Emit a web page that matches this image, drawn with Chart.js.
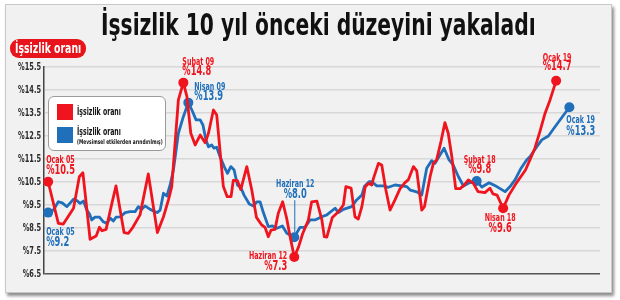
<!DOCTYPE html>
<html>
<head>
<meta charset="utf-8">
<script src="https://cdn.jsdelivr.net/npm/chart.js@4"></script>
<style>
  body { margin: 0; background: #fff; width: 620px; height: 300px; overflow: hidden; }
  .panel { position: absolute; left: 5px; top: 4px; width: 605px; height: 287px; background: #f1f1f1;
           border: 1px solid #c8c8c8; box-shadow: 2px 3px 3px rgba(0,0,0,0.45); }
  .narrow { font-family: "Liberation Sans Narrow", "DejaVu Sans Condensed", "Roboto", sans-serif; font-weight: bold; }
  .sq { display: inline-block; white-space: nowrap; transform-origin: left center; }
  #title { position: absolute; left: 101px; top: 6px; font-size: 31px; color: #111; white-space: nowrap; z-index: 2; }
  #pill { position: absolute; left: 10px; top: 39px; width: 76px; height: 19px; border-radius: 9px; background: #e8141b;
          color: #fff; font-size: 14px; line-height: 19px; z-index: 2; overflow: hidden; }
  #pill .sq { position: absolute; left: 5px; top: 0; }
  #legend { position: absolute; left: 48px; top: 96px; width: 118px; height: 55px; background: #fff;
            border: 1px solid #9a9a9a; border-radius: 6px; box-sizing: border-box; z-index: 2; }
  .sw { position: absolute; left: 8px; width: 16px; height: 16px; }
  .lt { position: absolute; left: 28px; font-size: 10px; color: #111; }
  .st { position: absolute; left: 28px; font-size: 6.5px; color: #111; }
  canvas { position: absolute; left: 0; top: 0; z-index: 1; }
</style>
</head>
<body>
<div class="panel"></div>
<div id="title" class="narrow"><span class="sq" data-w="435">İşsizlik 10 yıl önceki düzeyini yakaladı</span></div>
<div id="pill" class="narrow"><span class="sq" data-w="66">İşsizlik oranı</span></div>
<div id="legend" class="narrow">
  <div class="sw" style="top:7px;background:#f0141e"></div>
  <div class="lt" style="top:9px"><span class="sq" data-w="44">İşsizlik oranı</span></div>
  <div class="sw" style="top:30px;background:#1f6fba"></div>
  <div class="lt" style="top:29px"><span class="sq" data-w="44">İşsizlik oranı</span></div>
  <div class="st" style="top:41px"><span class="sq" data-w="86">(Mevsimsel etkilerden arındırılmış)</span></div>
</div>
<canvas id="chart" width="620" height="300"></canvas>
<script>
// months counted from Ocak 2005 (0)
const redMonths = [0, 3.7, 5.5, 9.2, 11.3, 12.6, 15.2, 17.4, 18.6, 19.5, 21.0, 23.1, 24.6, 27.5, 29.1, 30.7, 33.3, 36.3,
  39.6, 41.8, 43.6, 44.8, 46.0, 47.2, 49.0, 50.3, 51.7, 53.3, 55.1, 56.9, 58.1, 59.9, 61.1, 63.5, 64.9, 66.3, 67.1,
  68.6, 69.8, 72.0, 73.8, 75.5, 77.4, 78.6, 79.8, 80.8, 82.2, 83.4, 85.0, 86.5, 87.7, 89.2, 90.8, 92.2, 94.3, 95.5,
  97.4, 99.2, 100.1, 101.0, 103.0, 105.2, 107.0, 107.9, 109.8, 111.2, 112.4, 113.7, 114.9, 116.1, 117.3, 117.9,
  119.7, 120.9, 122.4, 123.9, 125.7, 127.5, 129.3, 130.5, 132.4, 133.6, 135.4, 136.4, 138.4, 139.6, 140.8, 142.4,
  143.8, 145.0, 146.3, 147.7, 149.3, 150.8, 152.3, 154.1, 155.8, 158.3, 160.1, 161.2, 162.7, 164.9, 167.0, 169.6,
  173.0, 174.6, 176.4, 178.3, 180.1, 181.9, 184.1];
const redRates = [10.51, 8.70, 8.67, 9.36, 10.73, 10.90, 8.01, 8.15, 8.53, 8.38, 8.44, 9.57, 10.33, 8.30, 8.27, 8.53,
  9.07, 10.85, 8.30, 8.99, 9.72, 10.30, 12.18, 14.07, 14.82, 14.21, 12.62, 12.11, 12.54, 12.21, 12.62, 13.63, 13.41,
  10.30, 9.86, 9.87, 10.57, 10.56, 10.17, 11.17, 10.15, 8.96, 8.63, 8.53, 8.12, 8.41, 8.44, 9.14, 9.64, 8.89, 8.12,
  7.24, 7.69, 8.24, 8.85, 9.64, 9.67, 8.85, 8.12, 8.10, 8.96, 9.21, 9.50, 10.30, 10.23, 8.99, 8.89, 9.43, 10.28,
  10.44, 10.37, 10.66, 11.31, 11.24, 10.15, 9.28, 9.72, 10.20, 10.47, 10.59, 11.17, 10.98, 9.28, 9.43, 10.72, 11.31,
  11.46, 12.28, 13.08, 12.62, 11.60, 10.21, 10.21, 10.37, 10.59, 10.44, 10.08, 10.04, 10.23, 9.98, 9.93, 9.36, 9.93,
  10.44, 11.02, 11.46, 11.97, 12.72, 13.49, 14.07, 14.90];
const blueMonths = [0, 1.9, 3.7, 5.1, 6.8, 9.2, 10.4, 11.6, 12.8, 14.0, 15.0, 15.8, 17.0, 18.6, 20.0, 21.3, 22.5, 23.6,
  24.6, 26.1, 27.9, 29.7, 31.5, 32.7, 33.9, 35.1, 37.0, 38.8, 39.5, 40.6, 41.8, 43.0, 44.2, 45.4, 47.2, 49.0, 50.8,
  52.1, 53.6, 55.1, 56.1, 57.2, 58.1, 59.3, 60.1, 61.1, 62.3, 63.8, 65.0, 66.2, 67.4, 68.6, 69.8, 71.0, 72.9, 74.4,
  75.6, 76.8, 78.0, 79.8, 81.3, 82.9, 84.9, 86.5, 89.2, 91.3, 93.1, 94.9, 96.7, 99.2, 101.0, 104.0, 105.2, 107.0,
  110.0, 111.8, 113.7, 114.6, 116.3, 117.3, 119.1, 121.5, 123.3, 125.7, 128.2, 130.0, 131.2, 133.6, 135.4, 137.2,
  139.0, 140.2, 142.0, 143.5, 145.3, 146.8, 148.7, 150.5, 152.5, 155.3, 157.2, 159.8, 162.6, 165.6, 167.4, 169.2,
  171.4, 173.4, 174.6, 177.1, 178.9, 181.3, 183.7, 188.9];
const blueRates = [9.17, 9.28, 9.64, 9.59, 9.43, 9.75, 9.69, 9.57, 9.67, 9.28, 9.11, 8.85, 8.97, 8.97, 8.77, 8.70, 8.93,
  8.80, 8.97, 8.98, 9.17, 9.21, 9.21, 9.43, 9.31, 9.46, 9.31, 9.21, 9.17, 9.28, 10.01, 9.89, 10.37, 11.02, 12.62,
  13.34, 13.95, 13.63, 13.20, 13.20, 12.98, 12.33, 12.03, 12.11, 11.97, 12.01, 11.60, 11.17, 10.88, 11.17, 11.02,
  10.37, 10.27, 9.93, 9.54, 9.46, 9.64, 9.64, 9.17, 8.56, 8.59, 8.49, 8.59, 8.27, 8.10, 8.53, 8.53, 8.85, 8.85, 8.99,
  9.07, 9.36, 9.17, 9.31, 9.43, 9.72, 9.93, 10.30, 10.51, 10.51, 10.33, 10.33, 10.27, 10.37, 10.33, 10.30, 10.15,
  10.07, 9.93, 11.10, 11.43, 11.31, 11.67, 11.97, 11.46, 11.24, 10.73, 10.33, 10.46, 10.54, 10.28, 10.47, 10.30,
  10.08, 10.30, 10.59, 11.10, 11.46, 11.60, 12.03, 12.33, 12.50, 12.90, 13.75];
const yTicks = [6.5, 7.5, 8.5, 9.5, 10.5, 11.5, 12.5, 13.5, 14.5, 15.5];
const redMarks = [0, 49.0, 89.2, 164.9, 184.1];
const blueMarks = [0, 50.8, 89.2, 155.3, 188.9];

const RED = '#f0141e';
const BLUE = '#1f6fba';
const FONT = '"Liberation Sans Narrow", "DejaVu Sans Condensed", Roboto, sans-serif';

// callout texts, tied to a marked point of a series
const callouts = [
  { s: 0, at: 0, name: 'Ocak 05', val: '%10.5', col: RED, align: 'left', dx: -2, dy1: -22, dy2: -11 },
  { s: 1, at: 0, name: 'Ocak 05', val: '%9.2', col: BLUE, align: 'left', dx: -2, dy1: 20, dy2: 30 },
  { s: 0, at: 49.0, name: 'Şubat 09', val: '%14.8', col: RED, align: 'left', dx: -1, dy1: -20, dy2: -11 },
  { s: 1, at: 50.8, name: 'Nisan 09', val: '%13.9', col: BLUE, align: 'left', dx: 6, dy1: -16, dy2: -6 },
  { s: 1, at: 89.2, name: 'Haziran 12', val: '%8.0', col: BLUE, align: 'center', dx: 1, dy1: -53, dy2: -43, stem: true },
  { s: 0, at: 89.2, name: 'Haziran 12', val: '%7.3', col: RED, align: 'right', dx: -7, dy1: -1, dy2: 9 },
  { s: 1, at: 155.3, name: 'Şubat 18', val: '%9.8', col: RED, align: 'center', dx: 3, dy1: -21, dy2: -12 },
  { s: 0, at: 164.9, name: 'Nisan 18', val: '%9.6', col: RED, align: 'center', dx: -3, dy1: 10, dy2: 20 },
  { s: 0, at: 184.1, name: 'Ocak 19', val: '%14.7', col: RED, align: 'center', dx: 1, dy1: -23, dy2: -14 },
  { s: 1, at: 188.9, name: 'Ocak 19', val: '%13.3', col: BLUE, align: 'left', dx: -3, dy1: 13, dy2: 24 }
];

// squeeze html texts to the widths they have in the picture
document.querySelectorAll('.sq').forEach(el => {
  el.style.transform = 'scaleX(' + (el.dataset.w / el.offsetWidth) + ')';
});

function toPoints(xs, ys) {
  return xs.map((m, i) => ({ x: m, y: ys[i] }));
}

// condensed look for canvas text
function narrowText(ctx, text, x, y, align, sx) {
  ctx.save();
  ctx.translate(x, y);
  ctx.scale(sx, 1);
  ctx.textAlign = align;
  ctx.fillText(text, 0, 0);
  ctx.restore();
}

const calloutPlugin = {
  id: 'callouts',
  afterDatasetsDraw(chart) {
    const ctx = chart.ctx;
    const xs = chart.scales.x, ys = chart.scales.y;
    const series = [[redMonths, redRates], [blueMonths, blueRates]];
    ctx.save();
    ctx.textBaseline = 'middle';

    // y tick labels
    ctx.fillStyle = '#2a2a2a';
    ctx.font = 'bold 10.5px ' + FONT;
    ys.ticks.forEach(tk => {
      narrowText(ctx, '%' + tk.value.toFixed(1), ys.right - 3, ys.getPixelForValue(tk.value), 'right', 0.7);
    });

    callouts.forEach(c => {
      const i = series[c.s][0].indexOf(c.at);
      const px = xs.getPixelForValue(series[c.s][0][i]);
      const py = ys.getPixelForValue(series[c.s][1][i]);
      ctx.fillStyle = c.col;
      if (c.stem) {
        ctx.strokeStyle = c.col;
        ctx.lineWidth = 1;
        ctx.beginPath();
        ctx.moveTo(px + 0.5, py + c.dy2 + 6);
        ctx.lineTo(px + 0.5, py - 5);
        ctx.stroke();
      }
      ctx.font = 'bold 11px ' + FONT;
      narrowText(ctx, c.name, px + c.dx, py + c.dy1, c.align, 0.64);
      ctx.font = 'bold 14px ' + FONT;
      narrowText(ctx, c.val, px + c.dx, py + c.dy2, c.align, 0.66);
    });
    ctx.restore();
  }
};

new Chart(document.getElementById('chart'), {
  type: 'line',
  data: {
    datasets: [
      {
        data: toPoints(redMonths, redRates),
        borderColor: RED,
        backgroundColor: RED,
        borderWidth: 2.8,
        pointRadius: ctx => redMarks.includes(redMonths[ctx.dataIndex]) ? 5 : 0,
        pointBorderWidth: 0,
        clip: false
      },
      {
        data: toPoints(blueMonths, blueRates),
        borderColor: BLUE,
        backgroundColor: BLUE,
        borderWidth: 2.8,
        pointRadius: ctx => blueMarks.includes(blueMonths[ctx.dataIndex]) ? 5 : 0,
        pointBorderWidth: 0,
        clip: false
      }
    ]
  },
  options: {
    responsive: false,
    animation: false,
    layout: { padding: { top: 67, right: 20, bottom: 26, left: 0 } },
    plugins: { legend: { display: false }, title: { display: false }, tooltip: { enabled: false } },
    elements: { line: { tension: 0, borderJoinStyle: 'round' } },
    scales: {
      x: { type: 'linear', min: -1.5, max: 200, display: false },
      y: {
        min: 6.5,
        max: 15.5,
        afterBuildTicks: scale => { scale.ticks = yTicks.map(v => ({ value: v })); },
        afterFit: scale => { scale.width = 44; },
        border: { display: true, color: '#444', width: 1.5 },
        grid: {
          drawTicks: false,
          color: c => c.tick.value === 6.5 ? '#555' : '#d8d8d8',
          lineWidth: 1.5
        },
        // labels are drawn condensed by the callout plugin
        ticks: { display: false }
      }
    }
  },
  plugins: [calloutPlugin]
});
</script>
</body>
</html>
